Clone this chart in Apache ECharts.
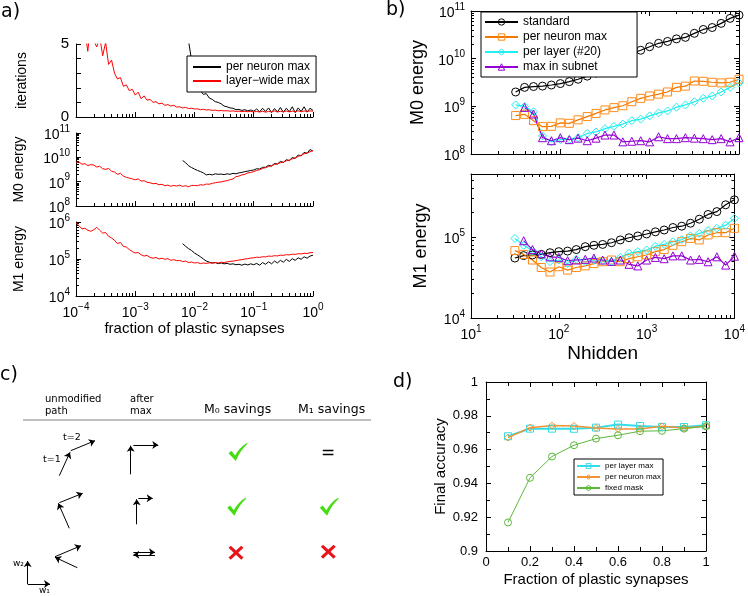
<!DOCTYPE html>
<html><head><meta charset="utf-8">
<script src="https://cdn.jsdelivr.net/npm/echarts@6/dist/echarts.min.js"></script>
<style>html,body{margin:0;padding:0;background:#fff}#c{width:748px;height:596px}</style>
</head><body><div id="c"></div>
<script>
// ---------- panel a data ----------
const aX = [1.00e-4,1.12e-4,1.26e-4,1.41e-4,1.58e-4,1.78e-4,2.00e-4,2.24e-4,2.51e-4,2.82e-4,3.16e-4,3.55e-4,3.98e-4,4.47e-4,5.01e-4,5.62e-4,6.31e-4,7.08e-4,7.94e-4,8.91e-4,
1.00e-3,1.12e-3,1.26e-3,1.41e-3,1.58e-3,1.78e-3,2.00e-3,2.24e-3,2.51e-3,2.82e-3,3.16e-3,3.55e-3,3.98e-3,4.47e-3,5.01e-3,5.62e-3,6.31e-3,7.08e-3,7.94e-3,8.91e-3,
1.00e-2,1.12e-2,1.26e-2,1.41e-2,1.58e-2,1.78e-2,2.00e-2,2.24e-2,2.51e-2,2.82e-2,3.16e-2,3.55e-2,3.98e-2,4.47e-2,5.01e-2,5.62e-2,6.31e-2,7.08e-2,7.94e-2,8.91e-2,
0.100,0.112,0.126,0.141,0.158,0.178,0.200,0.224,0.251,0.282,0.316,0.355,0.398,0.447,0.501,0.562,0.631,0.708,0.794,0.891,1.0];
const aBlackFirst = 36; // black curves start at aX[36]
const aRedIter = [7,8,7.5,6,4.5,6.5,5.2,4.8,5.5,4.2,5.1,3.6,3.9,3.0,2.6,2.7,2.1,2.2,1.8,1.9,
1.5,1.7,1.25,1.45,1.15,1.2,1.0,1.05,0.9,0.95,0.8,0.85,0.75,0.8,0.68,0.7,0.62,0.66,0.58,0.6,
0.55,0.56,0.5,0.53,0.48,0.5,0.45,0.47,0.43,0.44,0.42,0.43,0.4,0.42,0.38,0.4,0.37,0.39,0.36,0.38,
0.35,0.38,0.34,0.4,0.33,0.38,0.35,0.42,0.34,0.39,0.36,0.41,0.35,0.4,0.37,0.43,0.36,0.41,0.38,0.42,0.4];
const aBlackIter = [9,7,5.2,3.9,
3.0,2.3,1.8,1.55,1.6,1.3,1.2,1.05,1.0,0.9,0.75,0.7,0.62,0.6,0.5,0.52,0.45,0.5,0.42,0.48,
0.4,0.55,0.35,0.6,0.38,0.62,0.3,0.58,0.35,0.65,0.32,0.6,0.36,0.7,0.3,0.62,0.38,0.7,0.33,0.6,0.45];
const aRedM0 = [5.9e9,6.5e9,5.2e9,5.5e9,4.6e9,5.0e9,4.8e9,4.0e9,4.3e9,3.4e9,3.2e9,3.5e9,2.7e9,2.5e9,2.0e9,2.2e9,1.7e9,1.5e9,1.4e9,1.3e9,
1.2e9,1.3e9,1.05e9,1.1e9,9.5e8,9.0e8,8.2e8,8.5e8,7.5e8,7.8e8,6.8e8,7.2e8,6.5e8,7.0e8,6.6e8,7.2e8,6.4e8,6.8e8,6.2e8,7.0e8,
7.0e8,6.8e8,7.5e8,7.2e8,8.0e8,7.8e8,8.6e8,9.0e8,9.5e8,9.8e8,1.05e9,1.1e9,1.2e9,1.3e9,1.6e9,1.7e9,1.9e9,2.0e9,2.3e9,2.4e9,
2.6e9,2.9e9,3.1e9,3.5e9,3.8e9,4.2e9,4.5e9,5.1e9,5.4e9,6.0e9,6.3e9,7.2e9,7.6e9,8.7e9,9.5e9,1.1e10,1.2e10,1.4e10,1.5e10,1.7e10,1.9e10];
const aBlackM0 = [7.4e9,6.0e9,4.5e9,3.8e9,
3.3e9,2.9e9,2.6e9,2.3e9,1.9e9,2.0e9,1.9e9,2.1e9,2.0e9,2.05e9,1.95e9,2.1e9,2.0e9,2.2e9,2.1e9,2.3e9,2.4e9,2.6e9,2.7e9,2.9e9,
3.0e9,3.4e9,3.3e9,3.9e9,3.9e9,4.7e9,4.4e9,5.6e9,5.3e9,6.8e9,6.2e9,8.0e9,7.4e9,9.8e9,9.0e9,1.25e10,1.15e10,1.6e10,1.45e10,2.1e10,1.8e10];
const aRedM1 = [9.5e5,8.0e5,6.5e5,6.8e5,6.0e5,5.6e5,6.2e5,7.2e5,6.0e5,5.0e5,5.2e5,4.1e5,3.7e5,3.2e5,2.6e5,2.8e5,2.2e5,2.1e5,1.8e5,1.6e5,
1.45e5,1.5e5,1.3e5,1.2e5,1.25e5,1.1e5,1.05e5,1.1e5,1.0e5,1.05e5,9.8e4,1.02e5,9.2e4,9.6e4,9.0e4,9.2e4,8.5e4,8.8e4,8.0e4,8.3e4,
7.8e4,8.0e4,7.5e4,7.8e4,7.6e4,7.9e4,7.7e4,8.0e4,7.8e4,8.2e4,8.0e4,8.4e4,8.6e4,8.8e4,9.0e4,9.4e4,9.6e4,1.0e5,1.02e5,1.06e5,
1.08e5,1.12e5,1.1e5,1.15e5,1.14e5,1.2e5,1.18e5,1.23e5,1.21e5,1.27e5,1.25e5,1.31e5,1.29e5,1.35e5,1.33e5,1.39e5,1.37e5,1.43e5,1.41e5,1.48e5,1.5e5];
const aBlackM1 = [2.6e5,2.2e5,1.9e5,1.7e5,
1.45e5,1.3e5,1.15e5,1.0e5,8.8e4,8.2e4,7.8e4,8.0e4,7.5e4,7.8e4,7.4e4,7.6e4,7.2e4,7.4e4,7.0e4,7.2e4,6.8e4,7.3e4,6.9e4,7.4e4,
7.0e4,7.6e4,6.8e4,8.0e4,7.2e4,8.4e4,7.4e4,8.8e4,7.8e4,9.2e4,8.2e4,9.8e4,8.6e4,1.02e5,9.2e4,1.08e5,9.8e4,1.15e5,1.05e5,1.2e5,1.27e5];

// ---------- panel b data ----------
const bX = [31.6,39.8,50.1,63.1,79.4,100,126,158,200,251,316,398,501,631,794,1000,1259,1585,1995,2512,3162,3981,5012,6310,7943,10000];
const bStdM0 = [2.0e9,2.5e9,2.6e9,2.66e9,2.8e9,3.0e9,3.3e9,3.7e9,4.3e9,5.0e9,6.2e9,8.0e9,1.05e10,1.3e10,1.5e10,1.78e10,2.1e10,2.3e10,2.6e10,2.8e10,3.4e10,4.1e10,4.5e10,5.5e10,7.0e10,8.2e10];
const bNeuM0 = [6.4e8,6.8e8,5.0e8,3.75e8,3.8e8,4.5e8,4.4e8,5.2e8,6.1e8,7.1e8,8.4e8,9.4e8,1.03e9,1.25e9,1.47e9,1.65e9,1.8e9,2.0e9,2.5e9,2.65e9,3.4e9,3.35e9,3.2e9,3.1e9,3.2e9,3.7e9];
const bLayM0 = [1.07e9,1.0e9,7.7e8,2.4e8,1.8e8,2.0e8,2.0e8,2.2e8,2.7e8,2.9e8,3.4e8,3.8e8,4.25e8,5.0e8,5.4e8,6.3e8,7.3e8,8.0e8,9.6e8,1.07e9,1.25e9,1.47e9,1.65e9,2.0e9,2.5e9,3.1e9];
const bSubM0 = [null,9.5e8,6.9e8,2.2e8,1.9e8,2.2e8,2.0e8,2.15e8,1.9e8,2.15e8,2.5e8,2.5e8,1.8e8,1.85e8,1.9e8,1.8e8,2.3e8,2.1e8,2.1e8,2.2e8,2.15e8,2.1e8,2.0e8,2.1e8,1.8e8,2.2e8];
const bStdM1 = [5.5e4,5.9e4,6.0e4,6.1e4,6.4e4,6.6e4,6.7e4,7.0e4,7.6e4,7.9e4,8.1e4,8.5e4,9.2e4,9.8e4,1.03e5,1.09e5,1.16e5,1.22e5,1.31e5,1.36e5,1.48e5,1.66e5,1.9e5,2.06e5,2.5e5,2.88e5];
const bNeuM1 = [6.8e4,6.1e4,5.2e4,4.2e4,3.7e4,4.3e4,3.9e4,4.2e4,4.4e4,4.7e4,4.95e4,5.2e4,4.95e4,5.4e4,5.7e4,6.0e4,6.6e4,7.0e4,7.9e4,8.75e4,9.6e4,9.2e4,1.06e5,1.13e5,1.13e5,1.28e5];
const bLayM1 = [9.6e4,7.9e4,6.8e4,5.7e4,4.95e4,5.2e4,4.7e4,5.3e4,4.95e4,5.2e4,5.1e4,5.0e4,5.6e4,6.3e4,6.6e4,6.9e4,7.7e4,8.1e4,8.75e4,9.3e4,1.03e5,1.11e5,1.2e5,1.28e5,1.4e5,1.7e5];
const bSubM1 = [null,9.0e4,7.0e4,6.2e4,5.7e4,5.6e4,5.1e4,5.2e4,5.3e4,5.5e4,5.2e4,5.0e4,5.2e4,4.6e4,4.4e4,5.2e4,5.6e4,5.4e4,5.85e4,5.85e4,5.2e4,5.3e4,4.95e4,5.7e4,4.5e4,5.8e4];

// ---------- panel d data ----------
const dX = [0.1,0.2,0.3,0.4,0.5,0.6,0.7,0.8,0.9,1.0];
const dPerLayer = [0.9679,0.9724,0.9724,0.9723,0.9730,0.9748,0.9740,0.9734,0.9734,0.9744];
const dPerNeuron = [0.9671,0.9730,0.9742,0.9740,0.9728,0.9722,0.9722,0.9738,0.9728,0.9738];
const dFixedMask = [0.9169,0.9433,0.9559,0.9626,0.9665,0.9685,0.9709,0.9711,0.9724,0.9738];

// ---------- panel c diagram (panel-local units) ----------
const cArrows = [
  [59.3,115.7,70,92.3],[70.7,90.7,95,80.7],
  [130.7,114.3,130.7,85.7],[133.3,85,158.3,85],
  [69.3,168.3,58.3,143.3],[59.3,142.7,82.7,133.3],
  [136.7,164.3,136.7,139.3],[138.3,138.3,152.7,138.3],
  [55,196.7,81,185.7],[77.3,207.7,55,197.3],
  [133.3,192.3,155,192.3],[155,194.8,133.3,194.8],
  [27.7,224,27.7,201],[27.7,224,50,224]
];
const cChecks = [[238,92],[236.7,146.7],[329.3,146.7]];
const cCrosses = [[236,192.7],[328.3,191.7]];

// ---------- helpers ----------
const F = 'Liberation Sans';
function sup(v){
  const e = Math.log10(v), r = Math.round(e);
  if (Math.abs(e - r) > 1e-6) return '';
  return '{b|10}{s|' + (r < 0 ? '\u2212' + (-r) : r) + '}';
}
const supRich = {
  b:{fontSize:14, fontFamily:F, color:'#000', lineHeight:18, verticalAlign:'bottom'},
  s:{fontSize:10, fontFamily:F, color:'#000', lineHeight:10, verticalAlign:'top'}
};
function ax(o){
  return Object.assign({
    splitLine:{show:false},
    axisLine:{show:true, onZero:false, lineStyle:{color:'#000', width:1}},
    axisTick:{show:true, inside:true, length:5, lineStyle:{color:'#000'}},
    axisLabel:{show:false},
    nameTextStyle:{color:'#000', fontFamily:F}
  }, o);
}
function minorVals(lo, hi){
  const out = [];
  for (let e = Math.round(Math.log10(lo)); e < Math.log10(hi); e++)
    for (let m = 2; m <= 9; m++){ const v = m * Math.pow(10, e); if (v > lo && v < hi) out.push(v); }
  return out;
}
// overlay log axis that only draws the minor ticks (2..9 of each decade)
function minorAx(gridIndex, min, max, position){
  return {type:'log', logBase:10, gridIndex, min, max, position, splitLine:{show:false},
    axisLine:{show:false, onZero:false}, axisLabel:{show:false},
    axisTick:{show:true, inside:true, length:3, customValues:minorVals(min, max), lineStyle:{color:'#000'}}};
}
const logLbl = {show:true, formatter:sup, rich:supRich, margin:6};
function zip(xs, ys){ const r=[]; for(let i=0;i<xs.length;i++){ if(ys[i]!=null) r.push([xs[i],ys[i]]); } return r; }
const aXB = aX.slice(aBlackFirst);

function aLine(name, color, xi, data){
  return {type:'line', name, xAxisIndex:xi, yAxisIndex:xi, data, showSymbol:false,
    lineStyle:{color, width:1}, itemStyle:{color}, clip:true};
}
function bLine(name, color, symbol, xi, ys, lc){
  return {type:'line', name, xAxisIndex:xi, yAxisIndex:xi, data:zip(bX, ys),
    symbol, symbolSize:8, showSymbol:true,
    lineStyle:{color:lc||color, width:1.2},
    itemStyle:{color:'rgba(255,255,255,0)', borderColor:color, borderWidth:1}};
}
function dLine(name, color, symbol, ys, w){
  return {type:'line', name, xAxisIndex:5, yAxisIndex:5, data:zip(dX, ys),
    symbol, symbolSize:7, lineStyle:{color, width:w},
    itemStyle:{color:'rgba(255,255,255,0)', borderColor:color, borderWidth:1}};
}

const BLK='#000', RED='#ff0000', ORG='#ff8c1a', CYN='#22eeee', PUR='#9400d3';
const DCY='#33dde6', DOR='#f59233', DGR='#5cb83c';
const dMinor = {show:true, splitNumber:2, length:4, lineStyle:{color:'#000'}};
const hollow = {color:'rgba(255,255,255,0)', borderWidth:1};

const option = {
  animation:false,
  backgroundColor:'#fff',
  textStyle:{fontFamily:F},
  grid:[
    {left:76, top:44, width:237, height:73},
    {left:76, top:133, width:237, height:73},
    {left:76, top:222, width:237, height:74},
    {left:471, top:11, width:268, height:143},
    {left:471, top:174, width:268, height:144},
    {left:486, top:382, width:220, height:169},
    {left:0, top:360, width:374, height:236}
  ],
  xAxis:[
    ax({type:'log', logBase:10, gridIndex:0, min:1e-4, max:1, position:'bottom'}),
    ax({type:'log', logBase:10, gridIndex:1, min:1e-4, max:1, position:'bottom'}),
    ax({type:'log', logBase:10, gridIndex:2, min:1e-4, max:1, position:'bottom', axisLabel:logLbl,
        name:'fraction of plastic synapses', nameLocation:'middle', nameGap:20,
        nameTextStyle:{color:'#000', fontFamily:F, fontSize:15}}),
    ax({type:'log', logBase:10, gridIndex:3, min:10, max:1e4, position:'bottom'}),
    ax({type:'log', logBase:10, gridIndex:4, min:10, max:1e4, position:'bottom', axisLabel:logLbl,
        name:'Nhidden', nameLocation:'middle', nameGap:26,
        nameTextStyle:{color:'#000', fontFamily:F, fontSize:19}}),
    ax({type:'value', gridIndex:5, min:0, max:1, interval:0.2, position:'bottom', minorTick:dMinor,
        axisLabel:{show:true, fontSize:13, color:'#000', margin:5, fontFamily:F},
        name:'Fraction of plastic synapses', nameLocation:'middle', nameGap:21,
        nameTextStyle:{color:'#000', fontFamily:F, fontSize:15}}),
    {type:'value', gridIndex:6, min:0, max:374, show:false, position:'bottom'},
    ax({type:'log', logBase:10, gridIndex:3, min:10, max:1e4, position:'top'}),
    ax({type:'log', logBase:10, gridIndex:4, min:10, max:1e4, position:'top'}),
    ax({type:'value', gridIndex:5, min:0, max:1, interval:0.2, position:'top', minorTick:dMinor}),
    minorAx(0, 1e-4, 1, 'bottom'),
    minorAx(1, 1e-4, 1, 'bottom'),
    minorAx(2, 1e-4, 1, 'bottom'),
    minorAx(3, 10, 1e4, 'bottom'),
    minorAx(3, 10, 1e4, 'top'),
    minorAx(4, 10, 1e4, 'bottom'),
    minorAx(4, 10, 1e4, 'top')
  ],
  yAxis:[
    ax({type:'value', gridIndex:0, min:0, max:5, interval:1, position:'left',
        axisLabel:{show:true, fontSize:15, color:'#000', fontFamily:F, margin:7,
          formatter:v => (v===0||v===5) ? String(v) : ''},
        name:'iterations', nameLocation:'middle', nameGap:47,
        nameTextStyle:{color:'#000', fontFamily:F, fontSize:14}}),
    ax({type:'log', logBase:10, gridIndex:1, min:1e8, max:1e11, position:'left', axisLabel:logLbl,
        name:'M0 energy', nameLocation:'middle', nameGap:50,
        nameTextStyle:{color:'#000', fontFamily:F, fontSize:14}}),
    ax({type:'log', logBase:10, gridIndex:2, min:1e4, max:1e6, position:'left', axisLabel:logLbl,
        name:'M1 energy', nameLocation:'middle', nameGap:50,
        nameTextStyle:{color:'#000', fontFamily:F, fontSize:14}}),
    ax({type:'log', logBase:10, gridIndex:3, min:1e8, max:1e11, position:'left', axisLabel:logLbl,
        name:'M0 energy', nameLocation:'middle', nameGap:44,
        nameTextStyle:{color:'#000', fontFamily:F, fontSize:18}}),
    ax({type:'log', logBase:10, gridIndex:4, min:1e4, max:6e5, position:'left', axisLabel:logLbl,
        name:'M1 energy', nameLocation:'middle', nameGap:41,
        nameTextStyle:{color:'#000', fontFamily:F, fontSize:18}}),
    ax({type:'value', gridIndex:5, min:0.9, max:1, interval:0.02, position:'left', minorTick:dMinor,
        axisLabel:{show:true, fontSize:13, color:'#000', margin:8, fontFamily:F},
        name:'Final accuracy', nameLocation:'middle', nameGap:37,
        nameTextStyle:{color:'#000', fontFamily:F, fontSize:15}}),
    {type:'value', gridIndex:6, min:0, max:236, inverse:true, show:false, position:'left'},
    ax({type:'log', logBase:10, gridIndex:3, min:1e8, max:1e11, position:'right'}),
    ax({type:'log', logBase:10, gridIndex:4, min:1e4, max:6e5, position:'right'}),
    ax({type:'value', gridIndex:5, min:0.9, max:1, interval:0.02, position:'right', minorTick:dMinor}),
    minorAx(1, 1e8, 1e11, 'left'),
    minorAx(2, 1e4, 1e6, 'left'),
    minorAx(3, 1e8, 1e11, 'left'),
    minorAx(3, 1e8, 1e11, 'right'),
    minorAx(4, 1e4, 6e5, 'left'),
    minorAx(4, 1e4, 6e5, 'right')
  ],
  legend:[
    {data:['per neuron max','layer\u2212wide max'], left:187, top:56, orient:'vertical',
     icon:'rect', itemWidth:28, itemHeight:2, itemGap:2, padding:[5,6,5,6],
     borderColor:'#000', borderWidth:1, backgroundColor:'#fff',
     textStyle:{fontFamily:F, fontSize:12, color:'#000'}, selectedMode:false},
    {data:['standard','per neuron max ','per layer (#20)','max in subnet'], left:481, top:12, orient:'vertical',
     itemWidth:33, itemHeight:8, itemGap:3, padding:[4,30,4,3], itemStyle:hollow,
     borderColor:'#000', borderWidth:1, backgroundColor:'#fff', formatter:n => n.trim(),
     textStyle:{fontFamily:F, fontSize:12, color:'#000'}, selectedMode:false},
    {data:['per layer max','per neuron max  ','fixed mask'], left:574, top:459, orient:'vertical',
     itemWidth:23, itemHeight:6, itemGap:3, padding:[3,2,3,2], itemStyle:hollow,
     borderColor:'#000', borderWidth:1, backgroundColor:'#fff', formatter:n => n.trim(),
     textStyle:{fontFamily:F, fontSize:8, color:'#000'}, selectedMode:false}
  ],
  series:[
    aLine('per neuron max', BLK, 0, zip(aXB, aBlackIter)),
    aLine('layer\u2212wide max', RED, 0, zip(aX, aRedIter)),
    aLine('per neuron max', BLK, 1, zip(aXB, aBlackM0)),
    aLine('layer\u2212wide max', RED, 1, zip(aX, aRedM0)),
    aLine('per neuron max', BLK, 2, zip(aXB, aBlackM1)),
    aLine('layer\u2212wide max', RED, 2, zip(aX, aRedM1)),

    bLine('standard', BLK, 'circle', 3, bStdM0),
    bLine('per neuron max ', ORG, 'rect', 3, bNeuM0, '#f07800'),
    bLine('per layer (#20)', CYN, 'diamond', 3, bLayM0),
    bLine('max in subnet', PUR, 'triangle', 3, bSubM0),
    bLine('standard', BLK, 'circle', 4, bStdM1),
    bLine('per neuron max ', ORG, 'rect', 4, bNeuM1, '#f07800'),
    bLine('per layer (#20)', CYN, 'diamond', 4, bLayM1),
    bLine('max in subnet', PUR, 'triangle', 4, bSubM1),

    dLine('per layer max', DCY, 'rect', dPerLayer, 2),
    dLine('per neuron max  ', DOR, 'diamond', dPerNeuron, 1.5),
    dLine('fixed mask', DGR, 'circle', dFixedMask, 1),

    {type:'lines', coordinateSystem:'cartesian2d', xAxisIndex:6, yAxisIndex:6, silent:true,
     symbol:['none','arrow'], symbolSize:6,
     lineStyle:{color:'#000', width:1, opacity:1},
     data:cArrows.map(a => ({coords:[[a[0],a[1]],[a[2],a[3]]]}))},
    {type:'scatter', xAxisIndex:6, yAxisIndex:6, silent:true, data:cChecks,
     symbol:'path://M0,13 L4,10 L9,16 C13,9 18,4 25,0 L26,1 C19,7 14,14 10,23 Z',
     symbolSize:[19,18], itemStyle:{color:'#44dd11', opacity:1}},
    {type:'scatter', xAxisIndex:6, yAxisIndex:6, silent:true, data:cCrosses,
     symbol:'path://M0,3 L3,0 L10,7 L17,0 L20,3 L13,10 L20,17 L17,20 L10,13 L3,20 L0,17 L7,10 Z',
     symbolSize:[15,14], itemStyle:{color:'#e8141c', opacity:1}}
  ],
  graphic:[
    {type:'text', x:1, y:3, style:{text:'a)', font:'19px "DejaVu Sans"', fill:'#000'}},
    {type:'text', x:386, y:1, style:{text:'b)', font:'19px "DejaVu Sans"', fill:'#000'}},
    {type:'text', x:0, y:366, style:{text:'c)', font:'19px "DejaVu Sans"', fill:'#000'}},
    {type:'text', x:393, y:373, style:{text:'d)', font:'19px "DejaVu Sans"', fill:'#000'}},
    {type:'text', x:45, y:399, style:{text:'unmodified', font:'10px "DejaVu Sans"', fill:'#000', verticalAlign:'middle'}},
    {type:'text', x:45, y:411.5, style:{text:'path', font:'10px "DejaVu Sans"', fill:'#000', verticalAlign:'middle'}},
    {type:'text', x:130, y:399, style:{text:'after', font:'10px "DejaVu Sans"', fill:'#000', verticalAlign:'middle'}},
    {type:'text', x:130, y:411.5, style:{text:'max', font:'10px "DejaVu Sans"', fill:'#000', verticalAlign:'middle'}},
    {type:'text', x:204, y:410, style:{text:'M\u2080 savings', font:'12.5px "DejaVu Sans"', fill:'#000', verticalAlign:'middle'}},
    {type:'text', x:298, y:410, style:{text:'M\u2081 savings', font:'12.5px "DejaVu Sans"', fill:'#000', verticalAlign:'middle'}},
    {type:'line', shape:{x1:23, y1:420, x2:371, y2:420}, style:{stroke:'#aaaaaa', lineWidth:1.5}},
    {type:'text', x:63, y:438, style:{text:'t=2', font:'9.5px "DejaVu Sans"', fill:'#000', verticalAlign:'middle'}},
    {type:'text', x:43, y:460, style:{text:'t=1', font:'9.5px "DejaVu Sans"', fill:'#000', verticalAlign:'middle'}},
    {type:'text', x:328, y:454, style:{text:'=', font:'17px "DejaVu Sans"', fill:'#000', align:'center', verticalAlign:'middle'}},
    {type:'text', x:13, y:564, style:{text:'w\u2082', font:'9px "DejaVu Sans"', fill:'#000', verticalAlign:'middle'}},
    {type:'text', x:39, y:591, style:{text:'w\u2081', font:'9px "DejaVu Sans"', fill:'#000', verticalAlign:'middle'}}
  ]
};
const chart = echarts.init(document.getElementById('c'), null, {renderer:'canvas'});
chart.setOption(option);
</script></body></html>
